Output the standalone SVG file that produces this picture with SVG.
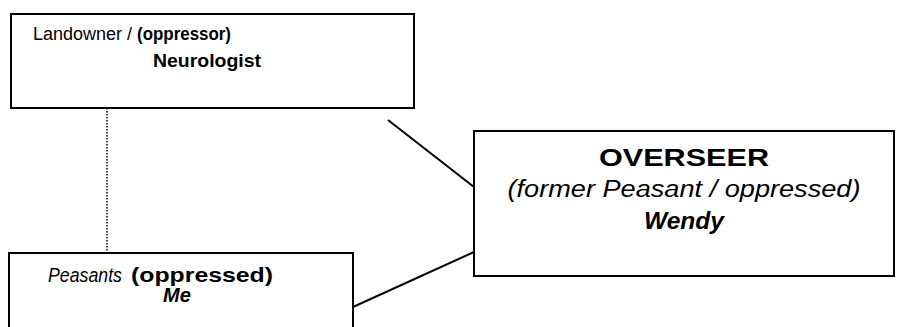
<svg xmlns="http://www.w3.org/2000/svg" width="904" height="327" viewBox="0 0 904 327">
<style>
.box{fill:#fff;stroke:#000;stroke-width:2}
.t{font-family:"Liberation Sans",Arial,sans-serif;fill:#000}
.b{font-weight:bold}
.i{font-style:italic}
.conn{stroke:#000;stroke-width:2;fill:none}
.dot{stroke:#000;stroke-width:1.5;stroke-dasharray:1.5 1.5;fill:none}
</style>
<rect width="904" height="327" fill="#fff"/>
<g id="connectors">
<line class="dot" x1="107" y1="108" x2="107" y2="253"/>
<line class="conn" x1="388" y1="120" x2="474" y2="187"/>
<line class="conn" x1="353" y1="307" x2="474" y2="252"/>
</g>
<g id="landowner">
<rect class="box" x="11" y="14" width="403" height="94"/>
<text class="t" x="33" y="40" font-size="18">Landowner /</text>
<text class="t b" x="137" y="40" font-size="18" textLength="94" lengthAdjust="spacingAndGlyphs">(oppressor)</text>
<text class="t b" x="207" y="67" font-size="19" text-anchor="middle" textLength="108" lengthAdjust="spacingAndGlyphs">Neurologist</text>
</g>
<g id="overseer">
<rect class="box" x="474" y="131" width="420" height="145"/>
<text class="t b" x="684" y="166" font-size="23" text-anchor="middle" textLength="170" lengthAdjust="spacingAndGlyphs">OVERSEER</text>
<text class="t i" x="684" y="197" font-size="23" text-anchor="middle" textLength="353" lengthAdjust="spacingAndGlyphs">(former Peasant / oppressed)</text>
<text class="t b i" x="684" y="229" font-size="23" text-anchor="middle" textLength="80" lengthAdjust="spacingAndGlyphs">Wendy</text>
</g>
<g id="peasants">
<rect class="box" x="9" y="253" width="344" height="90"/>
<text class="t i" x="48" y="282" font-size="20" textLength="74" lengthAdjust="spacingAndGlyphs">Peasants</text>
<text class="t b" x="131" y="282" font-size="21" textLength="142" lengthAdjust="spacingAndGlyphs">(oppressed)</text>
<text class="t b i" x="177" y="302" font-size="20" text-anchor="middle">Me</text>
</g>
</svg>
